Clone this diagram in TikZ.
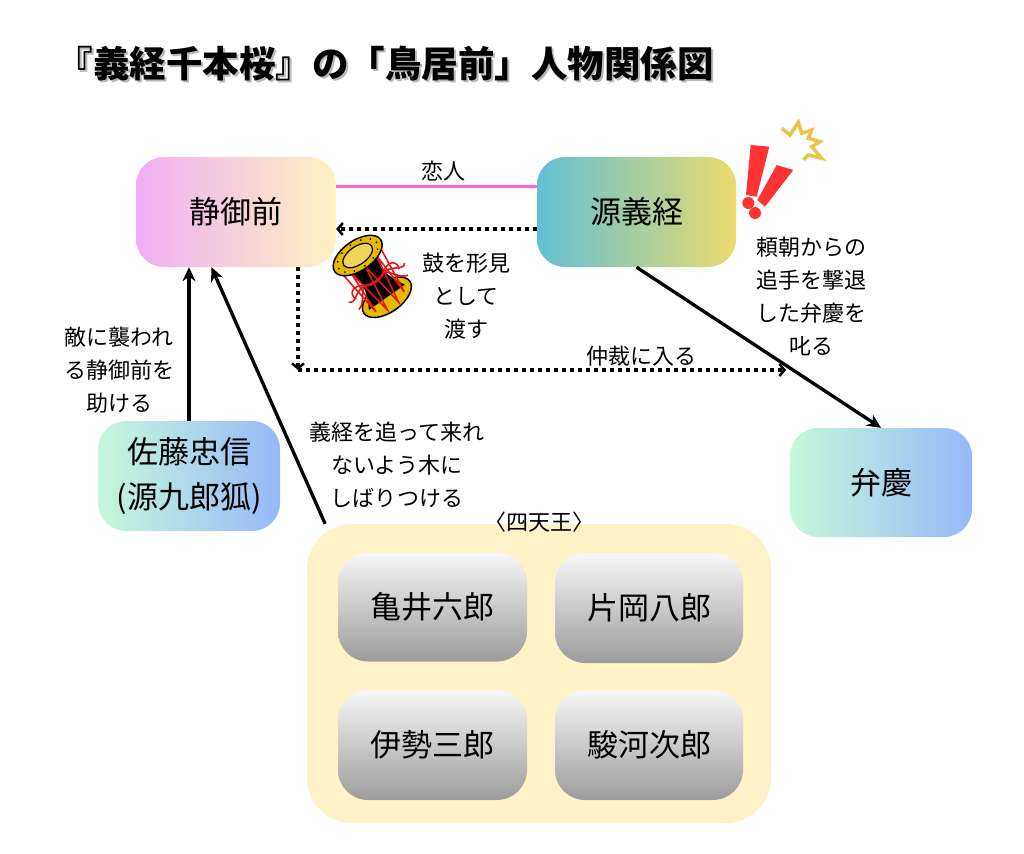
\documentclass[tikz,border=0pt]{standalone}
\usepackage{fontspec}
\setmainfont{Noto Sans CJK JP}
\usetikzlibrary{arrows.meta}
\definecolor{shizL}{HTML}{EFAEF3}
\definecolor{shizR}{HTML}{FDF3C0}
\definecolor{yoshiL}{HTML}{62BFD3}
\definecolor{yoshiR}{HTML}{EADB6E}
\definecolor{coolL}{HTML}{C6F8DA}
\definecolor{coolR}{HTML}{97B9F9}
\definecolor{groupfill}{HTML}{FFF2C6}
\definecolor{memtop}{HTML}{F7F7F7}
\definecolor{membot}{HTML}{9C9C9C}
\definecolor{lovepink}{HTML}{FF66CC}
\definecolor{alertred}{HTML}{FF3333}
\definecolor{sparkgold}{HTML}{EEC34A}
\definecolor{drumgold}{HTML}{E6B800}
\definecolor{drumlight}{HTML}{F2D35A}
\definecolor{cordred}{HTML}{E01818}
\begin{document}
\begin{tikzpicture}[x=1pt,y=-1pt,
    person/.style={rounded corners=28pt, minimum width=200pt, minimum height=110pt,
        inner sep=0pt, align=center, font={\fontsize{31}{45}\selectfont}},
    member/.style={person, rounded corners=30pt, minimum width=189pt, minimum height=109pt,
        top color=memtop, bottom color=membot},
    note/.style={inner sep=0pt, align=center, font={\fontsize{22}{33}\selectfont}},
    heading/.style={inner sep=0pt, font={\fontsize{36.5}{40}\selectfont\bfseries}},
    rel/.style={line width=3.3pt, -{Stealth[length=14pt,width=13pt]}},
    dotrel/.style={line width=3.5pt, dash pattern=on 3.5pt off 4.5pt,
        -{Straight Barb[length=5pt,width=12pt,line width=2.5pt]}},
    cord/.style={cordred, line width=1.6pt}]
\useasboundingbox (0,0) rectangle (1024,853);

% title
\node[heading, text=gray!55] (titleshadow) at (387,66) {『義経千本桜』の「鳥居前」人物関係図};
\node[heading] (title) at (385,64) {『義経千本桜』の「鳥居前」人物関係図};

% shitenno group
\node[fill=groupfill, rounded corners=45pt, minimum width=464pt, minimum height=299pt] (shitenno) at (539,673.5) {};
\node[note, font={\fontsize{22}{24}\selectfont}] (shitennolabel) at (539,522) {〈四天王〉};
\node[member] (kamei) at (432.5,607) {亀井六郎};
\node[member, minimum width=188pt, minimum height=110pt] (kataoka) at (649,608) {片岡八郎};
\node[member, minimum height=110pt] (ise) at (432.5,745) {伊勢三郎};
\node[member, minimum width=188pt, minimum height=110pt] (suruga) at (649,745) {駿河次郎};

% persons
\node[person, left color=shizL, right color=shizR] (shizuka) at (236,212) {静御前};
\node[person, minimum width=199pt, left color=yoshiL, right color=yoshiR] (yoshitsune) at (636.5,212) {源義経};
\node[person, minimum width=182pt, minimum height=109pt, left color=coolL, right color=coolR] (benkei) at (881,482.5) {弁慶};
\node[person, minimum width=182pt, left color=coolL, right color=coolR] (tadanobu) at (189,476) {佐藤忠信\\(源九郎狐)};

% relations
\draw[line width=3pt, lovepink] ([yshift=26pt]shizuka.east) -- ([yshift=26pt]yoshitsune.west);
\node[note] (lovelabel) at (443,171) {恋人};

\draw[dotrel] ([yshift=-17pt]yoshitsune.west) -- ([yshift=-17pt]shizuka.east);
\node[note] (drumlabel) at (466,296) {鼓を形見\\として\\渡す};

\coordinate (turn) at (298,370);
\coordinate (mediate) at (786,370);
\draw[dotrel] ([xshift=62pt]shizuka.south) -- (turn);
\draw[dotrel] (turn) -- (mediate);
\node[note] (mediatelabel) at (641,356) {仲裁に入る};

\draw[rel] (yoshitsune.south) -- (benkei.north);
\node[note] (scoldlabel) at (811,296) {頼朝からの\\追手を撃退\\した弁慶を\\叱る};

\draw[rel] (tadanobu.north) -- (tadanobu.north |- shizuka.south);
\node[note] (rescuelabel) at (119,370) {敵に襲われ\\る静御前を\\助ける};

\draw[rel] (shitenno.145) -- (shizuka.-114);
\node[note] (tielabel) at (397,465) {義経を追って来れ\\ないよう木に\\しばりつける};

% tsuzumi drum
\begin{scope}[shift={(372,276)}, rotate=35]
    \filldraw[fill=drumgold, draw=black, line width=1.5pt] (0,26) ellipse [x radius=28, y radius=15];
    \fill[black] (-22,-25) .. controls (-10,-5) and (-10,5) .. (-22,26) -- (22,26)
        .. controls (10,5) and (10,-5) .. (22,-25) -- cycle;
    \foreach \a in {10,50,90,130,170} {
        \path (0,-25) ++(\a:24 and 13) coordinate (top\a);
    }
    \foreach \a in {30,70,110,150} {
        \path (0,26) ++(\a:20 and 11) coordinate (bot\a);
    }
    \draw[cord] (top170) -- (bot150) -- (top130) -- (bot110) -- (top90) -- (bot70) -- (top50) -- (bot30) -- (top10);
    \filldraw[fill=drumgold, draw=black, line width=1.5pt] (0,-25) ellipse [x radius=28, y radius=15];
    \filldraw[fill=drumlight, draw=black, line width=1.2pt] (0,-25) ellipse [x radius=17, y radius=9];
    \foreach \a in {0,30,...,330} {
        \fill[black] (0,-25) ++(\a:23 and 12.5) circle (1pt);
    }
    \draw[cord, line width=2.5pt] (-13,3) .. controls (-5,8) and (5,8) .. (13,3);
    \draw[cord] (12,3) .. controls (22,-4) and (30,2) .. (26,10);
    \draw[cord] (12,3) .. controls (24,4) and (30,14) .. (34,8);
    \draw[cord] (12,3) .. controls (20,10) and (22,18) .. (30,20);
    \draw[cord] (-12,3) .. controls (-22,-4) and (-30,2) .. (-26,10);
    \draw[cord] (-12,3) .. controls (-24,4) and (-30,14) .. (-34,8);
    \draw[cord] (-12,3) .. controls (-20,10) and (-22,18) .. (-30,20);
\end{scope}

% exclamation and spark
\fill[alertred] (750.7,145) -- (769.3,146.7) -- (756.7,196.7) -- (746,195) -- cycle;
\fill[alertred] (748.3,203) circle (6pt);
\fill[alertred] (776.7,165) -- (793.3,170) -- (765,206.7) -- (757.3,200) -- cycle;
\fill[alertred] (755,213) circle (6pt);
\draw[sparkgold, line width=3.5pt, line join=miter] (781.7,128.3) -- (790,135) -- (798.3,122.3)
    -- (801.7,133.3) -- (811.7,130) -- (808.3,138.3) -- (820,141.7) -- (811.7,146.7)
    -- (821.7,158.3) -- (808.3,155) -- (803.3,160);
\end{tikzpicture}
\end{document}
